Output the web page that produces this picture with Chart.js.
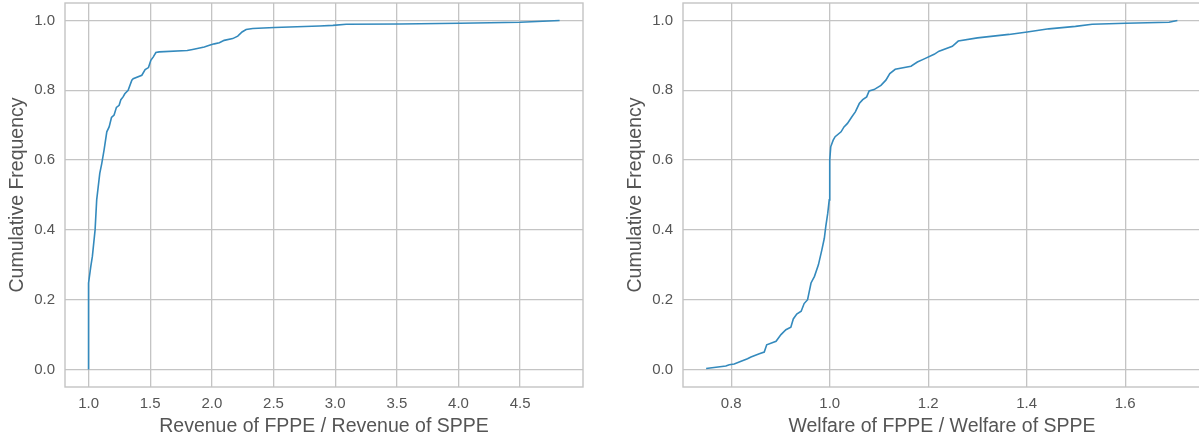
<!DOCTYPE html>
<html>
<head>
<meta charset="utf-8">
<script src="https://cdn.jsdelivr.net/npm/chart.js@4.4.1/dist/chart.umd.min.js"></script>
<style>
  html, body { margin: 0; padding: 0; background: #fff; overflow: hidden; width: 1199px; height: 440px; }
  canvas { position: absolute; top: 0; }
  #revenueChart { left: 0; }
  #welfareChart { left: 618px; }
</style>
</head>
<body>
<canvas id="revenueChart" width="600" height="440"></canvas>
<canvas id="welfareChart" width="600" height="440"></canvas>
<script>
// ===== Data =====
const revenueX = [1.0, 1.0, 1.018, 1.031, 1.053, 1.066, 1.091, 1.107, 1.126, 1.148, 1.167, 1.186, 1.207, 1.226,
  1.248, 1.262, 1.28, 1.294, 1.321, 1.351, 1.362, 1.432, 1.459, 1.486, 1.505, 1.524, 1.546, 1.573, 1.80, 1.844,
  1.939, 1.98, 2.02, 2.061, 2.10, 2.169, 2.21, 2.245, 2.278, 2.332, 2.508, 2.874, 2.982, 3.09, 3.524, 4.01, 4.50, 4.82];
const revenueY = [0.0, 0.248, 0.295, 0.324, 0.40, 0.486, 0.562, 0.590, 0.629, 0.681, 0.695, 0.722, 0.729, 0.751,
  0.757, 0.773, 0.781, 0.790, 0.80, 0.829, 0.833, 0.843, 0.859, 0.865, 0.886, 0.895, 0.908, 0.910, 0.914, 0.917,
  0.924, 0.929, 0.933, 0.936, 0.943, 0.948, 0.955, 0.967, 0.974, 0.977, 0.980, 0.984, 0.986, 0.989, 0.990, 0.992, 0.995, 1.0];

const welfareX = [0.749, 0.789, 0.796, 0.806, 0.820, 0.833, 0.840, 0.857, 0.867, 0.872, 0.891, 0.901, 0.911, 0.921,
  0.926, 0.933, 0.942, 0.948, 0.955, 0.962, 0.969, 0.977, 0.984, 0.989, 0.992, 0.996, 0.999, 1.0, 1.002, 1.007,
  1.011, 1.023, 1.029, 1.036, 1.045, 1.052, 1.06, 1.067, 1.075, 1.08, 1.09, 1.104, 1.114, 1.122, 1.133, 1.165,
  1.178, 1.192, 1.212, 1.222, 1.249, 1.261, 1.30, 1.364, 1.401, 1.445, 1.499, 1.533, 1.601, 1.689, 1.706];
const welfareY = [0.003, 0.010, 0.014, 0.016, 0.024, 0.031, 0.036, 0.045, 0.050, 0.071, 0.081, 0.100, 0.114, 0.121,
  0.145, 0.159, 0.167, 0.189, 0.200, 0.248, 0.267, 0.300, 0.343, 0.376, 0.410, 0.448, 0.486, 0.600, 0.638, 0.657,
  0.667, 0.681, 0.695, 0.705, 0.724, 0.738, 0.762, 0.773, 0.781, 0.798, 0.802, 0.814, 0.829, 0.848, 0.860, 0.869,
  0.881, 0.890, 0.903, 0.912, 0.926, 0.941, 0.950, 0.960, 0.967, 0.976, 0.983, 0.989, 0.992, 0.995, 1.0];

const revenueTicks = [1.0, 1.5, 2.0, 2.5, 3.0, 3.5, 4.0, 4.5];
const welfareTicks = [0.8, 1.0, 1.2, 1.4, 1.6];
const freqTicks = [0.0, 0.2, 0.4, 0.6, 0.8, 1.0];

// ===== Style =====
const LINE = "#348ABD";
const GRID = "#c4c4c4";
const TEXT = "#555555";
const FONT = "'Liberation Sans', Arial, sans-serif";

// box around the plot area, like the matplotlib spines
const frameBox = {
  id: "frameBox",
  afterDraw(chart) {
    const { ctx, chartArea: a } = chart;
    ctx.save();
    ctx.strokeStyle = GRID;
    ctx.lineWidth = 1.4;
    ctx.strokeRect(a.left, a.top, a.right - a.left, a.bottom - a.top);
    ctx.restore();
  }
};

function makeChart(id, xs, ys, xTicks, xMin, xMax, xTitle) {
  const points = xs.map((x, i) => ({ x: x, y: ys[i] }));
  return new Chart(document.getElementById(id), {
    type: "scatter",
    data: {
      datasets: [{
        data: points,
        showLine: true,
        borderColor: LINE,
        borderWidth: 1.6,
        pointRadius: 0,
        tension: 0
      }]
    },
    options: {
      responsive: false,
      animation: false,
      layout: { padding: { top: 3, right: 17, left: 0, bottom: 0 } },
      plugins: { legend: { display: false }, tooltip: { enabled: false } },
      scales: {
        x: {
          type: "linear",
          min: xMin,
          max: xMax,
          afterBuildTicks: (s) => { s.ticks = xTicks.map((v) => ({ value: v })); },
          afterFit: (s) => { s.height = 53; s.paddingLeft = 0; s.paddingRight = 0; },
          grid: { color: GRID, lineWidth: 1.3, drawTicks: false },
          border: { display: false },
          ticks: {
            padding: 8,
            color: TEXT,
            font: { family: FONT, size: 15 },
            maxRotation: 0,
            callback: (v) => v.toFixed(1)
          },
          title: {
            display: true,
            text: xTitle,
            color: TEXT,
            font: { family: FONT, size: 19.5 },
            padding: { top: 0, bottom: 2 }
          }
        },
        y: {
          min: -0.05,
          max: 1.05,
          afterBuildTicks: (s) => { s.ticks = freqTicks.map((v) => ({ value: v })); },
          afterFit: (s) => { s.width = 65; s.paddingTop = 0; s.paddingBottom = 0; },
          grid: { color: GRID, lineWidth: 1.3, drawTicks: false },
          border: { display: false },
          ticks: {
            padding: 10,
            color: TEXT,
            font: { family: FONT, size: 15 },
            callback: (v) => v.toFixed(1)
          },
          title: {
            display: true,
            text: "Cumulative Frequency",
            color: TEXT,
            font: { family: FONT, size: 19.5 },
            padding: { top: 6, bottom: 0 }
          }
        }
      }
    },
    plugins: [frameBox]
  });
}

makeChart("revenueChart", revenueX, revenueY, revenueTicks, 0.809, 5.01, "Revenue of FPPE / Revenue of SPPE");
makeChart("welfareChart", welfareX, welfareY, welfareTicks, 0.702, 1.754, "Welfare of FPPE / Welfare of SPPE");
</script>
</body>
</html>
